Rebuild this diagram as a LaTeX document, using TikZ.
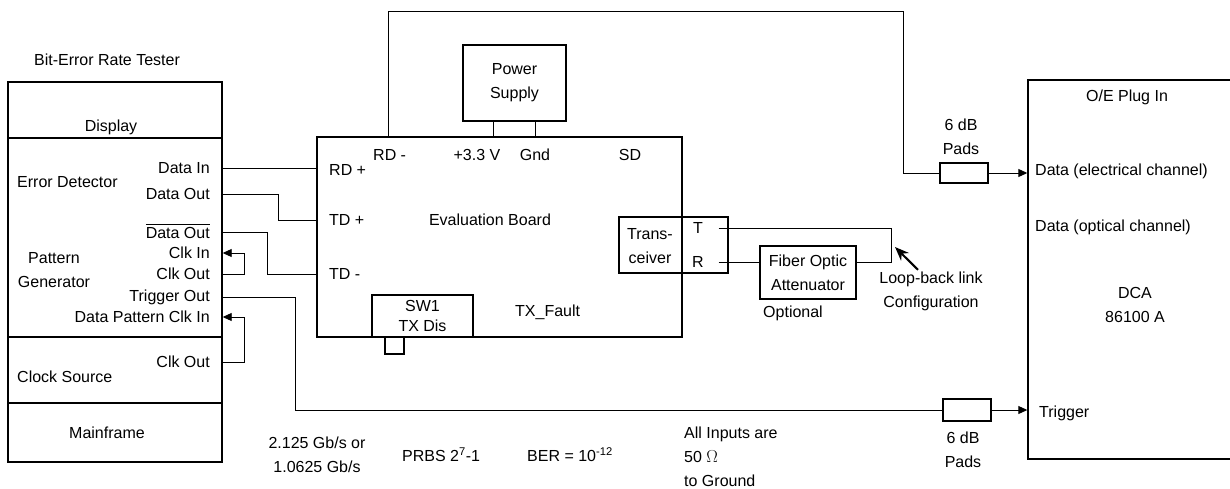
\documentclass[tikz,border=0pt]{standalone}
\usepackage{fontspec}
\setmainfont{Liberation Sans}
\usetikzlibrary{arrows.meta}
\begin{document}
\begin{tikzpicture}[
  x=1pt, y=-1pt,
  font=\fontsize{16}{24}\selectfont,
  marco/.style={draw=black, line width=1.4pt},
  caja/.style={marco, inner sep=0pt, align=center},
  texto/.style={inner sep=2pt, align=center},
  linea/.style={draw=black, line width=0.9pt},
  flecha/.style={linea, -{Triangle[length=9pt, width=8pt]}}
]
\useasboundingbox (0,0) rectangle (1230,489);

% Bit-Error Rate Tester
\node[caja, minimum width=214pt, minimum height=380pt] (bert) at (115,272) {};
\draw[marco] (bert.west |- 0,138) -- (bert.east |- 0,138);
\draw[marco] (bert.west |- 0,337) -- (bert.east |- 0,337);
\draw[marco] (bert.west |- 0,403) -- (bert.east |- 0,403);
\node[texto] (titulo) at (107,60) {Bit-Error Rate Tester};
\node[texto] (display) at (111,127) {Display};
\node[texto, anchor=west] (errdet) at (15,182) {Error Detector};
\node[texto] (patgen) at (54,270) {Pattern\\Generator};
\node[texto, anchor=west] (clksrc) at (15,377) {Clock Source};
\node[texto] (mainfr) at (107,433) {Mainframe};
\node[texto, anchor=east] (din) at (212,168) {Data In};
\node[texto, anchor=east] (dout) at (212,194) {Data Out};
\node[texto, anchor=east] (ndout) at (212,231) {$\overline{\rule{0pt}{13.5pt}\mbox{Data Out}}$};
\node[texto, anchor=east] (clki) at (212,253) {Clk In};
\node[texto, anchor=east] (clko) at (212,274) {Clk Out};
\node[texto, anchor=east] (trg) at (212,297) {Trigger Out};
\node[texto, anchor=east] (dpci) at (212,317) {Data Pattern Clk In};
\node[texto, anchor=east] (clkob) at (212,362) {Clk Out};

% Evaluation board
\node[caja, minimum width=365pt, minimum height=200pt] (board) at (499.5,237) {};
\node[caja, minimum width=103pt, minimum height=76pt] (psu) at (514.5,83) {Power\\Supply};
\node[caja, minimum width=109pt, minimum height=56pt] (trx) at (673.5,245) {};
\node[caja, minimum width=101pt, minimum height=42pt, font=\fontsize{16}{20}\selectfont] (sw) at (422.5,316) {SW1\\TX Dis};
\node[caja, minimum width=19pt, minimum height=17pt] (perilla) at (394.5,345.5) {};
\node[texto, anchor=west] (rdm) at (371,155) {RD -};
\node[texto] (vcc) at (477,155) {+3.3 V};
\node[texto] (gnd) at (535,155) {Gnd};
\node[texto] (sd) at (630,155) {SD};
\node[texto, anchor=west] (rdp) at (327,170) {RD +};
\node[texto, anchor=west] (tdp) at (327,220) {TD +};
\node[texto, anchor=west] (tdm) at (327,274) {TD -};
\node[texto] (evb) at (490,220) {Evaluation Board};
\node[texto, anchor=west] (txf) at (513,312) {TX\_Fault};
\node[texto] (trxlab) at (650,246) {Trans-\\ceiver};
\node[texto] (tl) at (698,228) {T};
\node[texto] (rl) at (698,262) {R};

% attenuator and loop-back
\node[caja, minimum width=96pt, minimum height=53pt] (att) at (808,272.5) {Fiber Optic\\Attenuator};
\node[texto] (opt) at (793,313) {Optional};
\node[texto] (lb) at (931,291.5) {Loop-back link\\Configuration};

% pads and DCA
\node[caja, minimum width=48pt, minimum height=20pt] (pad1) at (964,173) {};
\node[caja, minimum width=48pt, minimum height=22pt] (pad2) at (967,410) {};
\node[texto] (pad1lab) at (961,137) {6 dB\\Pads};
\node[texto] (pad2lab) at (963,449.5) {6 dB\\Pads};
\node[caja, minimum width=212pt, minimum height=379pt] (dca) at (1134,269.5) {};
\node[texto] (oe) at (1127,97) {O/E Plug In};
\node[texto, anchor=west] (delec) at (1033,171) {Data (electrical channel)};
\node[texto, anchor=west] (dopt) at (1033,227) {Data (optical channel)};
\node[texto] (dcalab) at (1135,305) {DCA\\86100 A};
\node[texto, anchor=west] (dtrg) at (1037,413) {Trigger};

% notes
\node[texto] (rate) at (317,455) {2.125 Gb/s or\\1.0625 Gb/s};
\node[texto, anchor=west] (prbs) at (400,455) {PRBS 2\textsuperscript{7}-1};
\node[texto, anchor=west] (ber) at (525,455) {BER = 10\textsuperscript{-12}};
\node[texto, anchor=west, align=left] (inputs) at (682,457) {All Inputs are\\50 $\Omega$\\to Ground};

% connections
\draw[linea] (bert.east |- din) -- (board.west |- din);
\draw[linea] (bert.east |- dout) -- ++(56,0) |- (board.west |- tdp);
\draw[linea] (bert.east |- 0,232) -- ++(45,0) |- (board.west |- tdm);
\draw[flecha] (bert.east |- clko) -- ++(22,0) |- (bert.east |- clki);
\draw[flecha] (bert.east |- clkob) -- ++(22,0) |- (bert.east |- dpci);
\draw[linea] (bert.east |- trg) -- ++(73,0) |- (pad2.west);
\draw[flecha] (pad2.east) -- (dca.west |- pad2);
\coordinate (tope) at (903,11);
\draw[linea] (board.north -| 388,0) |- (tope) |- (pad1.west);
\draw[flecha] (pad1.east) -- (dca.west |- pad1);
\draw[linea] ([xshift=-21.5pt]psu.south) -- ([xshift=-21.5pt]psu.south |- board.north);
\draw[linea] ([xshift=20.5pt]psu.south) -- ([xshift=20.5pt]psu.south |- board.north);
\coordinate (lazo) at (891,245);
\draw[linea] ([xshift=-10pt]trx.east |- tl) -| (lazo) |- (att.east |- rl);
\draw[linea] ([xshift=-10pt]trx.east |- rl) -- (att.west |- rl);
\coordinate (punta) at (895,247);
\draw[line width=2pt, -{Stealth[length=14pt, width=11pt]}] ([xshift=-13pt]lb.north) -- (punta);
\end{tikzpicture}
\end{document}
